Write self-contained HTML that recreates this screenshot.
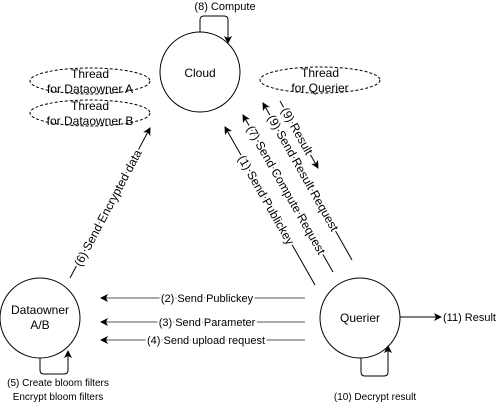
<!DOCTYPE html>
<html><head><style>
body{margin:0;background:#fff;}
svg{display:block;font-family:"Liberation Sans",Arial,sans-serif;}
.lab{font-size:11px;fill:#000;paint-order:stroke;stroke:#fff;stroke-width:4px;stroke-linejoin:round;}
.rl{font-size:12px;}
</style></head><body>
<svg width="500" height="408" viewBox="0 0 500 408" xmlns="http://www.w3.org/2000/svg">
<defs>
<marker id="ar" markerWidth="8" markerHeight="8" refX="7" refY="4" orient="auto" markerUnits="userSpaceOnUse">
<path d="M0,0 L8,4 L0,8 L2,4 Z" fill="#000"/></marker>
</defs>
<g fill="none" stroke="#000" stroke-width="1">
<circle cx="200" cy="72" r="40" fill="#fff"/>
<circle cx="40" cy="318" r="40" fill="#fff"/>
<circle cx="360" cy="318" r="40" fill="#fff"/>
<ellipse cx="90" cy="81" rx="60" ry="13" stroke-dasharray="3,2"/>
<ellipse cx="90" cy="113" rx="60" ry="13" stroke-dasharray="3,2"/>
<ellipse cx="320" cy="80" rx="60" ry="13" stroke-dasharray="3,2"/>
<path d="M200,32 V20 Q200,16 204,16 H224 Q228,16 228,20 V43" marker-end="url(#ar)"/>
<path d="M40,358 V370 Q40,374 44,374 H64 Q68,374 68,370 V351" marker-end="url(#ar)"/>
<path d="M361,358 V372 Q361,376 365,376 H384 Q388,376 388,372 V346" marker-end="url(#ar)"/>
<path d="M400,317 H441" marker-end="url(#ar)"/>
<g stroke="#555">
<path d="M305,298 H101" marker-end="url(#ar)"/>
<path d="M305,322 H101" marker-end="url(#ar)"/>
<path d="M305,340 H101" marker-end="url(#ar)"/>
</g>
<path d="M70,278 L150,128" marker-end="url(#ar)"/>
<path d="M315,285 L225,127" marker-end="url(#ar)"/>
<path d="M333,272 L243,115" marker-end="url(#ar)"/>
<path d="M352,260 L263,103" marker-end="url(#ar)"/>
<path d="M280,101 L318,168" marker-end="url(#ar)"/>
</g>
<g font-size="12" text-anchor="middle" fill="#000">
<text x="200" y="77">Cloud</text>
<text x="40" y="314">Dataowner</text>
<text x="40" y="329">A/B</text>
<text x="360" y="322">Querier</text>
<text x="90" y="78">Thread</text>
<text x="90" y="93">for Dataowner A</text>
<text x="90" y="110">Thread</text>
<text x="90" y="125">for Dataowner B</text>
<text x="320" y="77">Thread</text>
<text x="320" y="92">for Querier</text>
</g>
<g font-size="11" fill="#000">
<text x="225" y="10" text-anchor="middle">(8) Compute</text>
<text x="443" y="321">(11) Result</text>
<text x="375" y="400" text-anchor="middle" font-size="10">(10) Decrypt result</text>
<text x="58" y="386" text-anchor="middle" font-size="10">(5) Create bloom filters</text>
<text x="58" y="400" text-anchor="middle" font-size="10">Encrypt bloom filters</text>
</g>
<g text-anchor="middle">
<text class="lab" x="207" y="302">(2) Send Publickey</text>
<text class="lab" x="207" y="326">(3) Send Parameter</text>
<text class="lab" x="206" y="344">(4) Send upload request</text>
<text class="lab rl" transform="translate(108,208) rotate(-62)" x="0" y="4">(6) Send Encrypted data</text>
<text class="lab rl" transform="translate(266,200) rotate(60.3)" x="0" y="4">(1) Send Publickey</text>
<text class="lab rl" transform="translate(286,190) rotate(60.2)" x="0" y="4">(7) Send Compute Request</text>
<text class="lab rl" transform="translate(303,173) rotate(60.5)" x="0" y="4">(9) Send Result Request</text>
<text class="lab rl" transform="translate(297,131) rotate(60.5)" x="0" y="4">(9) Result</text>
</g>
</svg>
</body></html>
